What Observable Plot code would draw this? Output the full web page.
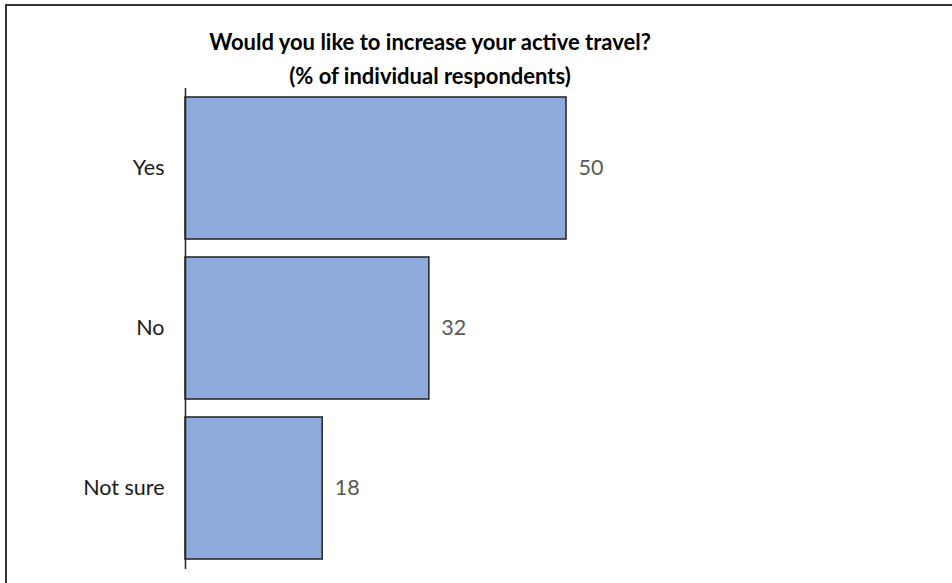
<!DOCTYPE html>
<html><head><meta charset="utf-8">
<script src="https://cdn.jsdelivr.net/npm/d3@7"></script>
<script src="https://cdn.jsdelivr.net/npm/@observablehq/plot@0.6"></script>
<style>
html,body{margin:0;padding:0;background:#fff;overflow:hidden;}
#frame{position:absolute;left:5px;top:4px;width:1200px;height:1200px;border:2px solid #333;box-sizing:border-box;}
#wrap{position:absolute;left:0;top:0;width:952px;}
#title{height:88px;box-sizing:border-box;padding-top:25px;text-align:center;font-family:Lato,"Open Sans",sans-serif;font-weight:bold;font-size:22px;line-height:34px;color:#000;padding-right:92px;overflow:hidden;}
</style></head>
<body>
<div id="frame"></div>
<div id="wrap">
<div id="title">Would you like to increase your active travel?<br>(% of individual respondents)</div>
<div id="chart"></div>
</div>
<script>
const categories = ["Yes", "No", "Not sure"];
const values = [50, 32, 18];
const data = categories.map((c, i) => ({answer: c, pct: values[i]}));

const chart = Plot.plot({
  width: 952,
  height: 495,
  marginLeft: 185,
  marginRight: 5,
  marginTop: 0,
  marginBottom: 14,
  style: {fontFamily: "Lato, 'Open Sans', sans-serif", fontSize: "21.5px", color: "#1a1a1a", background: "transparent"},
  x: {domain: [0, 100], axis: null},
  y: {domain: categories, paddingInner: 0.11, paddingOuter: 0.055, label: null, tickSize: 0, tickPadding: 21},
  marks: [
    Plot.barX(data, {x: "pct", y: "answer", fill: "#8FAADC", stroke: "#2b2b2b", strokeWidth: 1.6}),
    Plot.text(data, {x: "pct", y: "answer", text: d => String(d.pct), textAnchor: "start", dx: 12, fill: "#595959", fontSize: 21.5}),
    Plot.ruleX([0], {stroke: "#2b2b2b", strokeWidth: 1.6})
  ]
});
document.getElementById("chart").appendChild(chart);
</script>
</body></html>
